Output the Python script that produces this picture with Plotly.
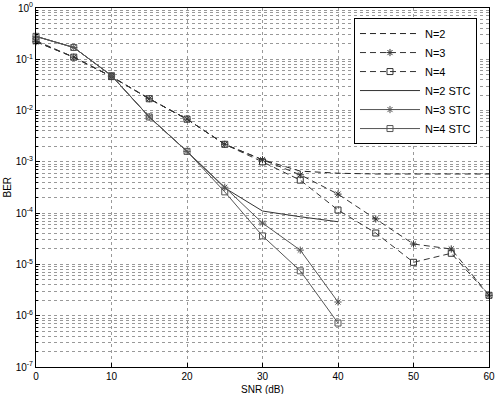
import plotly.graph_objects as go

snr_full = [0, 5, 10, 15, 20, 25, 30, 35, 40, 45, 50, 55, 60]
snr_stc = [0, 5, 10, 15, 20, 25, 30, 35, 40]

ber_n2 = [0.22, 0.11, 0.046, 0.017, 0.0068, 0.0022, 0.0011, 6.6e-4, 6.0e-4, 5.8e-4, 5.8e-4, 5.8e-4, 5.8e-4]
ber_n3 = [0.22, 0.11, 0.046, 0.017, 0.0068, 0.0022, 0.0011, 5.6e-4, 2.35e-4, 7.7e-5, 2.5e-5, 2.0e-5, 2.5e-6]
ber_n4 = [0.23, 0.11, 0.046, 0.017, 0.0068, 0.0022, 0.0010, 4.4e-4, 1.15e-4, 4.1e-5, 1.1e-5, 1.65e-5, 2.5e-6]

ber_n2_stc = [0.28, 0.17, 0.048, 0.0075, 0.0016, 3.1e-4, 1.1e-4, 8.5e-5, 6.8e-5]
ber_n3_stc = [0.28, 0.17, 0.048, 0.0075, 0.0016, 3.2e-4, 6.4e-5, 1.9e-5, 1.85e-6]
ber_n4_stc = [0.28, 0.17, 0.048, 0.0075, 0.0016, 2.6e-4, 3.6e-5, 7.5e-6, 7.2e-7]

ytick_vals = [1e0, 1e-1, 1e-2, 1e-3, 1e-4, 1e-5, 1e-6, 1e-7]
ytick_text = ["10<sup>0</sup>", "10<sup>-1</sup>", "10<sup>-2</sup>", "10<sup>-3</sup>",
              "10<sup>-4</sup>", "10<sup>-5</sup>", "10<sup>-6</sup>", "10<sup>-7</sup>"]
xtick_vals = [0, 10, 20, 30, 40, 50, 60]

fig = go.Figure()

def add(x, y, name, dash, symbol, color):
    mode = "lines+markers" if symbol else "lines"
    fig.add_trace(go.Scatter(
        x=x, y=y, name=name, mode=mode, cliponaxis=False,
        line=dict(color=color, width=1, dash=dash),
        marker=dict(symbol=symbol or "circle", size=6, color=color,
                    line=dict(color=color, width=1)),
    ))

add(snr_full, ber_n2, "N=2", "6px,4px", None, "#222222")
add(snr_full, ber_n3, "N=3", "6px,4px", "asterisk-open", "#333333")
add(snr_full, ber_n4, "N=4", "6px,4px", "square-open", "#333333")
add(snr_stc, ber_n2_stc, "N=2 STC", "solid", None, "#333333")
add(snr_stc, ber_n3_stc, "N=3 STC", "solid", "asterisk-open", "#555555")
add(snr_stc, ber_n4_stc, "N=4 STC", "solid", "square-open", "#555555")

gridc = "#999999"
fig.update_layout(
    width=495, height=394,
    margin=dict(l=36, r=6, t=8, b=27, autoexpand=False),
    paper_bgcolor="white", plot_bgcolor="white",
    font=dict(family="Liberation Sans, Arial, sans-serif", size=10, color="black"),
    showlegend=True,
    legend=dict(x=0.9735, y=0.972, xanchor="right", yanchor="top",
                bgcolor="white", bordercolor="black", borderwidth=1,
                font=dict(size=11), itemwidth=60, tracegroupgap=0),
    xaxis=dict(range=[0, 60], tickvals=xtick_vals, showgrid=True,
               gridcolor=gridc, griddash="dot", gridwidth=1,
               showline=True, linecolor="black", linewidth=1, mirror=True,
               ticks="inside", ticklen=4, tickcolor="black", zeroline=False,
               ticklabelstandoff=0, automargin=False),
    yaxis=dict(type="log", range=[-7, 0], tickvals=ytick_vals, ticktext=ytick_text,
               showgrid=True, gridcolor=gridc, griddash="dot", gridwidth=1,
               showline=True, linecolor="black", linewidth=1, mirror=True,
               ticks="inside", ticklen=4, tickcolor="black", zeroline=False,
               automargin=False,
               minor=dict(showgrid=True, gridcolor=gridc, griddash="dot", gridwidth=1,
                          ticks="inside", ticklen=2, tickcolor="black", dtick="D1")),
)
fig.add_annotation(text="SNR (dB)", x=0.5, xref="paper", y=0, yref="paper",
                   yshift=-15, yanchor="top", showarrow=False, font=dict(size=10))
fig.add_annotation(text="BER", x=0, xref="paper", xshift=-29, xanchor="center",
                   y=0.5, yref="paper", textangle=-90, showarrow=False, font=dict(size=10))

fig.write_html("out.html", config={"displayModeBar": False},
               post_script="document.body.style.margin='0';")
